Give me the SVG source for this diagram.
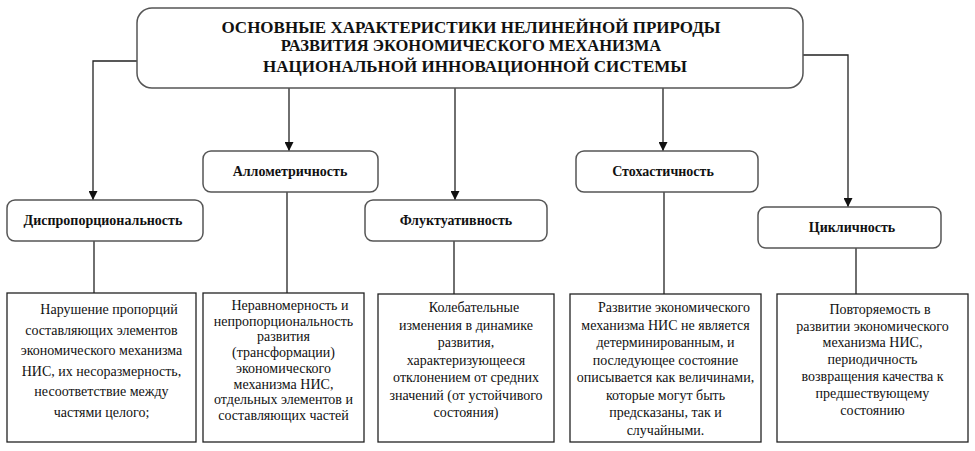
<svg xmlns="http://www.w3.org/2000/svg" width="975" height="451" viewBox="0 0 975 451" font-family="Liberation Serif, Times New Roman, serif">
<style>
.rb{fill:#fff;stroke:#555;stroke-width:1.5}
.tb{fill:#fff;stroke:#222;stroke-width:1.3}
.ln{fill:none;stroke:#222;stroke-width:1.3}
text{fill:#111;text-anchor:middle}
.h{font-size:17px;font-weight:bold}
.h2{font-size:16.5px;font-weight:bold}
.n{font-size:14px;font-weight:bold}
.d{font-size:14px}
</style>
<defs>
<marker id="ar" viewBox="0 0 10 10" refX="10" refY="5" markerWidth="9" markerHeight="9" markerUnits="userSpaceOnUse" orient="auto">
<path d="M0,0 L10,5 L0,10 Z" fill="#111"/>
</marker>
</defs>
<rect width="975" height="451" fill="#fff"/>
<g id="connectors">
<path class="ln" d="M137,61 H93 V200" marker-end="url(#ar)"/>
<path class="ln" d="M803,55 H848 V207" marker-end="url(#ar)"/>
<path class="ln" d="M289,88 V151" marker-end="url(#ar)"/>
<path class="ln" d="M455,88 V200" marker-end="url(#ar)"/>
<path class="ln" d="M663,88 V151" marker-end="url(#ar)"/>
<path class="ln" d="M94,241 V293"/>
<path class="ln" d="M287,192 V293"/>
<path class="ln" d="M454,241 V294"/>
<path class="ln" d="M664,192 V294"/>
<path class="ln" d="M856,248 V294"/>
</g>
<g id="title" font-family="Liberation Serif, serif">
<rect class="rb" x="137" y="8" width="666" height="80" rx="15"/>
<text class="h" x="471" y="33">ОСНОВНЫЕ ХАРАКТЕРИСТИКИ НЕЛИНЕЙНОЙ ПРИРОДЫ</text>
<text class="h2" x="471" y="51">РАЗВИТИЯ ЭКОНОМИЧЕСКОГО МЕХАНИЗМА</text>
<text class="h" x="475" y="72">НАЦИОНАЛЬНОЙ ИННОВАЦИОННОЙ СИСТЕМЫ</text>
</g>
<g id="n-disp" font-family="Liberation Serif, serif">
<rect class="rb" x="7" y="200" width="196" height="41" rx="8"/>
<text class="n" x="103" y="225">Диспропорциональность</text>
</g>
<g id="n-allo" font-family="Liberation Serif, serif">
<rect class="rb" x="203" y="151" width="175" height="41" rx="8"/>
<text class="n" x="290" y="176">Аллометричность</text>
</g>
<g id="n-fluc" font-family="Liberation Serif, serif">
<rect class="rb" x="365" y="200" width="182" height="41" rx="8"/>
<text class="n" x="456" y="225">Флуктуативность</text>
</g>
<g id="n-stoch" font-family="Liberation Serif, serif">
<rect class="rb" x="576" y="151" width="182" height="41" rx="8"/>
<text class="n" x="663" y="176">Стохастичность</text>
</g>
<g id="n-cycl" font-family="Liberation Serif, serif">
<rect class="rb" x="758" y="207" width="183" height="41" rx="8"/>
<text class="n" x="852" y="232">Цикличность</text>
</g>
<g id="d-disp" font-family="Liberation Serif, serif">
<rect class="tb" x="7" y="293" width="189" height="149"/>
<text class="d" x="109" y="314">Нарушение пропорций</text>
<text class="d" x="101.5" y="334.5">составляющих элементов</text>
<text class="d" x="101.5" y="355">экономического механизма</text>
<text class="d" x="101.5" y="375.5">НИС, их  несоразмерность,</text>
<text class="d" x="101.5" y="396">несоответствие между</text>
<text class="d" x="101.5" y="416.5">частями целого;</text>
</g>
<g id="d-allo" font-family="Liberation Serif, serif">
<rect class="tb" x="203" y="293" width="161" height="149"/>
<text class="d" x="290" y="310">Неравномерность  и</text>
<text class="d" x="283.5" y="325.7">непропорциональность</text>
<text class="d" x="283.5" y="341.4">развития</text>
<text class="d" x="283.5" y="357.1">(трансформации)</text>
<text class="d" x="283.5" y="372.8">экономического</text>
<text class="d" x="283.5" y="388.5">механизма НИС,</text>
<text class="d" x="283.5" y="404.2">отдельных элементов и</text>
<text class="d" x="283.5" y="420">составляющих частей</text>
</g>
<g id="d-fluc" font-family="Liberation Serif, serif">
<rect class="tb" x="378" y="294" width="176" height="148"/>
<text class="d" x="474" y="312">Колебательные</text>
<text class="d" x="466" y="329.5">изменения в динамике</text>
<text class="d" x="466" y="347">развития,</text>
<text class="d" x="466" y="364.5">характеризующееся</text>
<text class="d" x="466" y="382">отклонением от средних</text>
<text class="d" x="466" y="399.5">значений (от устойчивого</text>
<text class="d" x="466" y="417">состояния)</text>
</g>
<g id="d-stoch" font-family="Liberation Serif, serif">
<rect class="tb" x="570" y="294" width="191" height="148"/>
<text class="d" x="674" y="312">Развитие экономического</text>
<text class="d" x="665.5" y="329.5">механизма НИС не является</text>
<text class="d" x="665.5" y="347">детерминированным, и</text>
<text class="d" x="665.5" y="364.5">последующее состояние</text>
<text class="d" x="665.5" y="382">описывается как величинами,</text>
<text class="d" x="665.5" y="399.5">которые могут быть</text>
<text class="d" x="665.5" y="417">предсказаны, так и</text>
<text class="d" x="665.5" y="434.5">случайными.</text>
</g>
<g id="d-cycl" font-family="Liberation Serif, serif">
<rect class="tb" x="777" y="294" width="191" height="148"/>
<text class="d" x="880" y="313.5">Повторяемость в</text>
<text class="d" x="872.5" y="330.5">развитии экономического</text>
<text class="d" x="872.5" y="347.3">механизма НИС,</text>
<text class="d" x="872.5" y="364">периодичность</text>
<text class="d" x="872.5" y="381">возвращения качества  к</text>
<text class="d" x="872.5" y="397.8">предшествующему</text>
<text class="d" x="872.5" y="414.5">состоянию</text>
</g>
</svg>
